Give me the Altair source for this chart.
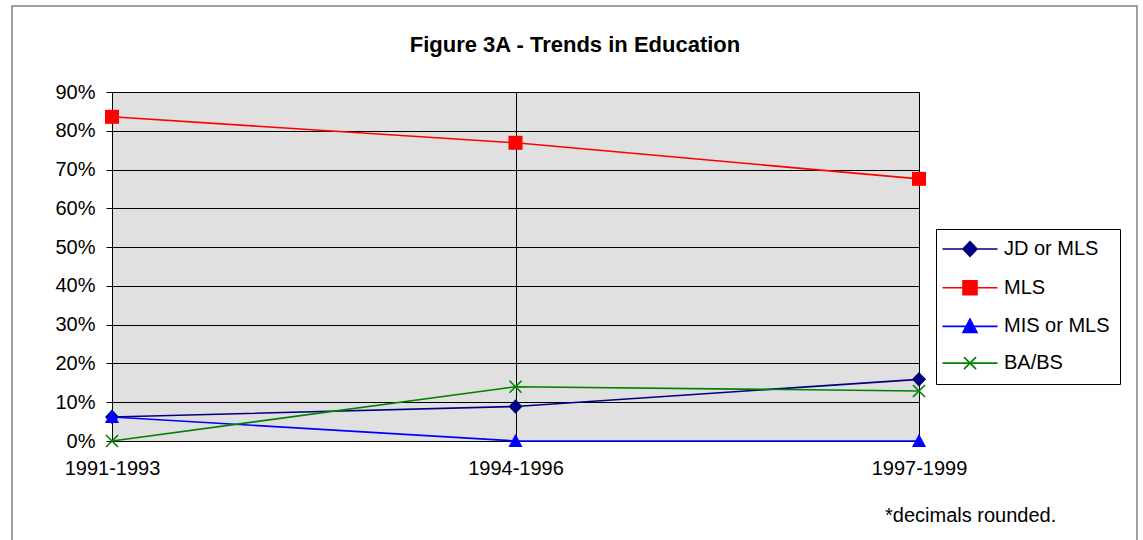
import altair as alt
import pandas as pd

# ---- data -------------------------------------------------------------
periods = ["1991-1993", "1994-1996", "1997-1999"]
series = ["JD or MLS", "MLS", "MIS or MLS", "BA/BS"]
jd_or_mls = [6.2, 8.9, 15.9]      # percent
mls = [83.6, 76.9, 67.6]
mis_or_mls = [6.2, 0.0, 0.0]
ba_bs = [0.0, 14.0, 12.9]
y_ticks = [0, 10, 20, 30, 40, 50, 60, 70, 80, 90]

title_text = "Figure 3A - Trends in Education"
note_text = "*decimals rounded."

colors = ["#000080", "#FF0000", "#0000FF", "#008000"]

# marker outlines, in symbol units (1 unit = 7 px at size 196)
markers = [
    "M0,-1.05L1.0,0L0,1.05L-1.0,0Z",            # diamond
    "M-1,-1H1V1H-1Z",                           # square
    "M0,-1.05L1.0,0.85H-1.0Z",                  # triangle
    "M-0.86,-0.86L0.86,0.86M-0.86,0.86L0.86,-0.86",  # x
]
filled = [True, True, True, False]
# legend swatches: a short line through the marker
swatches = ["M-3.93,0H3.93" + m for m in markers]

rows = []
for name, vals in zip(series, [jd_or_mls, mls, mis_or_mls, ba_bs]):
    for p, v in zip(periods, vals):
        rows.append({"period": p, "series": name, "value": v / 100})
df = pd.DataFrame(rows)

FONT = "Liberation Sans"

x_enc = alt.X(
    "period:N",
    sort=periods,
    scale=alt.Scale(type="point", domain=periods, padding=0),
    axis=alt.Axis(title=None, labelAngle=0, ticks=False, grid=True,
                  labelPadding=17, labelFontSize=20),
)
y_enc = alt.Y(
    "value:Q",
    scale=alt.Scale(domain=[0, 0.9], nice=False, zero=True),
    axis=alt.Axis(title=None, values=[t / 100 for t in y_ticks], format=".0%",
                  grid=True, ticks=True, tickSize=6, labelPadding=11,
                  labelFontSize=20),
)
color_scale = alt.Scale(domain=series, range=colors)

base = alt.Chart(df)

# outer chart frame
frame = alt.Chart(alt.Data(values=[{}])).mark_rect(
    fill="transparent", stroke="#808080", strokeWidth=1.5
).encode(
    x=alt.value(-100), x2=alt.value(1025),
    y=alt.value(-86), y2=alt.value(470),
)

# one line + marker layer per series, drawn in series order
series_layers = []
for name, col, shp, fl in zip(series, colors, markers, filled):
    sub = base.transform_filter(alt.datum.series == name)
    series_layers.append(
        sub.mark_line(color=col, strokeWidth=1.6).encode(x=x_enc, y=y_enc)
    )
    series_layers.append(
        sub.mark_point(shape=shp, size=196, filled=fl, color=col,
                       strokeWidth=1.6, opacity=1)
        .encode(x=x_enc, y=y_enc)
    )

legend_def = alt.Legend(
    title=None, orient="none", legendX=824, legendY=137,
    padding=10, strokeColor="black", fillColor="white",
    symbolSize=196, symbolStrokeWidth=1.6, symbolOffset=14,
    labelOffset=24, labelFontSize=20, labelFont=FONT, labelColor="black",
    labelLimit=400, rowPadding=16.7, direction="vertical",
)

# legend carrier: draws no marks of its own, only the legend
legend_layer = base.transform_filter("false").mark_point(
    filled=True, opacity=1, strokeWidth=1.6
).encode(
    x=x_enc, y=y_enc,
    shape=alt.Shape("series:N", scale=alt.Scale(domain=series, range=swatches),
                    legend=legend_def),
    fill=alt.Fill("series:N", scale=color_scale, legend=legend_def),
    stroke=alt.Stroke("series:N", scale=color_scale, legend=legend_def),
)

title = alt.Chart(alt.Data(values=[{}])).mark_text(
    text=title_text, font=FONT, fontSize=22, fontWeight="bold",
    align="center", baseline="alphabetic", color="black",
).encode(x=alt.value(463), y=alt.value(-40))

note = alt.Chart(alt.Data(values=[{}])).mark_text(
    text=note_text, font=FONT, fontSize=20,
    align="left", baseline="alphabetic", color="black",
).encode(x=alt.value(773), y=alt.value(430))

chart = alt.layer(
    frame, *series_layers, legend_layer, title, note
).properties(
    width=807, height=349,
    autosize=alt.AutoSizeParams(type="none"),
    padding={"left": 112, "top": 92, "right": 224, "bottom": 99},
    background="white",
).configure_view(
    fill="#E0E0E0", stroke="black", strokeWidth=1,
).configure_axis(
    labelFont=FONT, labelColor="black", domainColor="black",
    tickColor="black", gridColor="black", gridWidth=1, gridOpacity=1,
    domainWidth=1,
)

chart.save("out.html", embed_options={"renderer": "svg", "actions": False})
